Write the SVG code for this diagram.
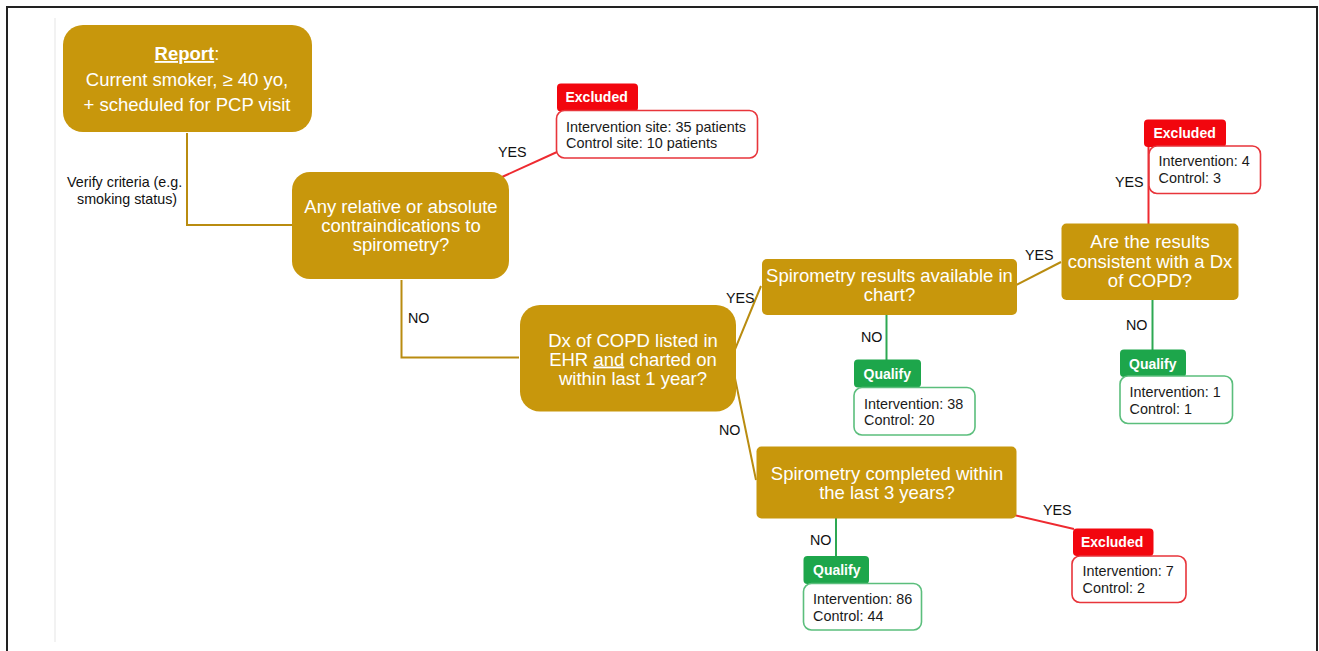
<svg xmlns="http://www.w3.org/2000/svg" width="1319" height="651" viewBox="0 0 1319 651">
<style>
.node{fill:#C8970C;}
.nt{font-family:"Liberation Sans",Arial,sans-serif;font-size:18.5px;fill:#FFFFFF;text-anchor:middle;}
.lbl{font-family:"Liberation Sans",Arial,sans-serif;font-size:14.3px;fill:#111;}
.bt{font-family:"Liberation Sans",Arial,sans-serif;font-size:14.4px;fill:#1a1a1a;}
.tagt{font-family:"Liberation Sans",Arial,sans-serif;font-size:14px;font-weight:bold;fill:#FFFFFF;}
.extag{fill:#F2060E;}
.qtag{fill:#1DA64B;}
.exbox{fill:#FFFFFF;stroke:#E8353B;stroke-width:1.6;}
.qbox{fill:#FFFFFF;stroke:#5BBE7C;stroke-width:1.6;}
.cg{fill:none;stroke:#B98C10;stroke-width:2;}
.cr{fill:none;stroke:#EE2A30;stroke-width:2;}
.cq{fill:none;stroke:#2DA852;stroke-width:2;}
</style>
<rect x="0" y="0" width="1319" height="651" fill="#FFFFFF"/>
<rect x="7" y="7" width="1310" height="660" fill="none" stroke="#222" stroke-width="2"/>
<line x1="55" y1="18" x2="55" y2="642" stroke="#F2F2F2" stroke-width="2"/>

<g id="connectors">
  <polyline class="cg" points="187,133 187,225 292,225"/>
  <polyline class="cg" points="401.5,280 401.5,357.5 519,357.5"/>
  <line class="cr" x1="502" y1="177" x2="557" y2="152"/>
  <polyline class="cg" points="761,286 731,359 756,480"/>
  <line class="cq" x1="886.5" y1="315" x2="886.5" y2="360"/>
  <line class="cg" x1="1016" y1="285" x2="1061" y2="262"/>
  <line class="cr" x1="1148.5" y1="224" x2="1148.5" y2="140"/>
  <line class="cq" x1="1152.5" y1="300" x2="1152.5" y2="350"/>
  <line class="cq" x1="836" y1="518" x2="836" y2="557"/>
  <line class="cr" x1="1014" y1="515" x2="1074" y2="529"/>
  <text class="lbl" x="67" y="187">Verify criteria (e.g.</text>
  <text class="lbl" x="77" y="204">smoking status)</text>
  <text class="lbl" x="498" y="157">YES</text>
  <text class="lbl" x="408" y="323">NO</text>
  <text class="lbl" x="726" y="303">YES</text>
  <text class="lbl" x="719" y="435">NO</text>
  <text class="lbl" x="861" y="342">NO</text>
  <text class="lbl" x="1025" y="260">YES</text>
  <text class="lbl" x="1115" y="187">YES</text>
  <text class="lbl" x="1126" y="330">NO</text>
  <text class="lbl" x="810" y="545">NO</text>
  <text class="lbl" x="1043" y="515">YES</text>
</g>

<g id="report">
  <rect class="node" x="63" y="25" width="249" height="107" rx="20"/>
  <text class="nt" x="187" y="60"><tspan font-weight="bold" text-decoration="underline">Report</tspan>:</text>
  <text class="nt" x="187" y="86">Current smoker, ≥ 40 yo,</text>
  <text class="nt" x="187" y="111">+ scheduled for PCP visit</text>
</g>

<g id="contraindications">
  <rect class="node" x="292" y="172" width="217" height="107" rx="18"/>
  <text class="nt" x="401" y="213">Any relative or absolute</text>
  <text class="nt" x="401" y="232">contraindications to</text>
  <text class="nt" x="401" y="251">spirometry?</text>
</g>

<g id="excluded1">
  <rect class="extag" x="557" y="83.5" width="81" height="28" rx="4"/>
  <text class="tagt" x="565.5" y="102">Excluded</text>
  <rect class="exbox" x="556.5" y="110.5" width="201" height="47.5" rx="8"/>
  <text class="bt" x="566" y="132">Intervention site: 35 patients</text>
  <text class="bt" x="566" y="148">Control site: 10 patients</text>
</g>

<g id="dx-copd">
  <rect class="node" x="520" y="305" width="216" height="106.5" rx="20"/>
  <text class="nt" x="633" y="346.5">Dx of COPD listed in</text>
  <text class="nt" x="633" y="365.5">EHR <tspan text-decoration="underline">and</tspan> charted on</text>
  <text class="nt" x="633" y="384.5">within last 1 year?</text>
</g>

<g id="spiro-available">
  <rect class="node" x="762" y="259" width="255" height="56" rx="5"/>
  <text class="nt" x="889.5" y="281.5">Spirometry results available in</text>
  <text class="nt" x="889.5" y="300.5">chart?</text>
</g>

<g id="qualify1">
  <rect class="qtag" x="854" y="359.5" width="67" height="28" rx="4"/>
  <text class="tagt" x="863.5" y="378.5">Qualify</text>
  <rect class="qbox" x="854" y="387.5" width="121" height="47.5" rx="8"/>
  <text class="bt" x="864" y="408.5">Intervention: 38</text>
  <text class="bt" x="864" y="425">Control: 20</text>
</g>

<g id="consistent">
  <rect class="node" x="1061.5" y="223.5" width="177" height="76.5" rx="5"/>
  <text class="nt" x="1150" y="248">Are the results</text>
  <text class="nt" x="1150" y="267.5">consistent with a Dx</text>
  <text class="nt" x="1150" y="286.5">of COPD?</text>
</g>

<g id="excluded2">
  <rect class="extag" x="1144" y="119.5" width="82" height="27.5" rx="4"/>
  <text class="tagt" x="1153.5" y="137.5">Excluded</text>
  <rect class="exbox" x="1149" y="146" width="111.5" height="47.5" rx="8"/>
  <text class="bt" x="1158.5" y="166">Intervention: 4</text>
  <text class="bt" x="1158.5" y="183">Control: 3</text>
</g>

<g id="qualify2">
  <rect class="qtag" x="1120" y="349.5" width="66" height="27.5" rx="4"/>
  <text class="tagt" x="1129" y="368.5">Qualify</text>
  <rect class="qbox" x="1120" y="376" width="112.5" height="47.5" rx="8"/>
  <text class="bt" x="1129.5" y="397">Intervention: 1</text>
  <text class="bt" x="1129.5" y="413.5">Control: 1</text>
</g>

<g id="spiro-completed">
  <rect class="node" x="756.5" y="446.5" width="260" height="72" rx="5"/>
  <text class="nt" x="887" y="480">Spirometry completed within</text>
  <text class="nt" x="887" y="498.5">the last 3 years?</text>
</g>

<g id="qualify3">
  <rect class="qtag" x="803.5" y="556" width="65.5" height="28" rx="4"/>
  <text class="tagt" x="813" y="574.5">Qualify</text>
  <rect class="qbox" x="803.5" y="583.5" width="118" height="46.5" rx="8"/>
  <text class="bt" x="813" y="603.5">Intervention: 86</text>
  <text class="bt" x="813" y="620.5">Control: 44</text>
</g>

<g id="excluded3">
  <rect class="extag" x="1073" y="528.5" width="80.5" height="27.5" rx="4"/>
  <text class="tagt" x="1081" y="546.5">Excluded</text>
  <rect class="exbox" x="1072" y="556" width="114" height="46.5" rx="8"/>
  <text class="bt" x="1082.5" y="576">Intervention: 7</text>
  <text class="bt" x="1082.5" y="593">Control: 2</text>
</g>
</svg>
